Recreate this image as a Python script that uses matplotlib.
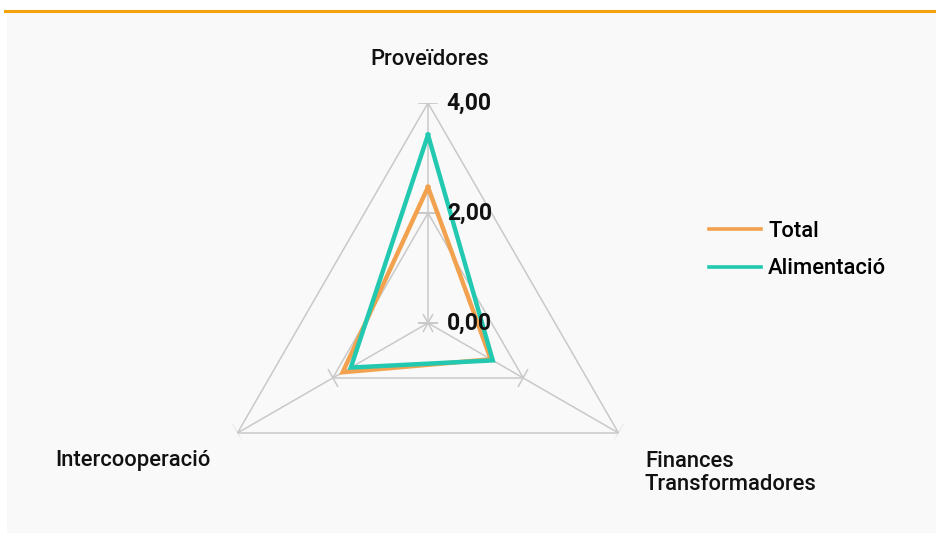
import numpy as np
import matplotlib
matplotlib.use("Agg")
import matplotlib.pyplot as plt
from matplotlib.markers import MarkerStyle
from matplotlib.transforms import Affine2D
from matplotlib.patches import Rectangle
from matplotlib.lines import Line2D

categories = ['Proveïdores', 'Finances\nTransformadores', 'Intercooperació']
series_names = ['Total', 'Alimentació']
total = [2.47, 1.32, 1.79]
alimentacio = [3.42, 1.36, 1.62]
tick_values = [0, 2, 4]
tick_labels = ['0,00', '2,00', '4,00']

FONT = ['Roboto', 'DejaVu Sans']
plt.rcParams['font.family'] = FONT
LABEL_W = 'medium'
LABEL_FS = 15.8

W, H = 936, 533
fig = plt.figure(figsize=(W / 100, H / 100), dpi=100)
fig.patch.set_facecolor('white')

# background panel and orange top rule
fig.patches.append(Rectangle((7 / W, 0), 1, (H - 12) / H, transform=fig.transFigure,
                             facecolor='#f9f9f9', edgecolor='none', zorder=-10))
fig.lines.append(Line2D([5 / W, 1], [1 - 10.5 / H, 1 - 10.5 / H], transform=fig.transFigure,
                        color='#f7a10d', linewidth=2.2))

cx, cy, R = 428, 323, 220
ax = fig.add_axes([(cx - R) / W, (H - cy - R) / H, 2 * R / W, 2 * R / H], projection='polar')
ax.set_facecolor('none')
ax.set_theta_offset(np.pi / 2)
ax.set_theta_direction(-1)
ax.set_ylim(0, 4)
ax.axis('off')

n = len(categories)
theta = np.arange(n) * 2 * np.pi / n
theta_c = np.append(theta, theta[0])

grid_col = '#c9c9c9'
for tv in tick_values[1:]:
    ax.plot(theta_c, [tv] * (n + 1), color=grid_col, lw=1.1, zorder=1)
for t in theta:
    ax.plot([t, t], [0, tick_values[-1]], color=grid_col, lw=1.1, zorder=1)
    screen_deg = 90 - np.degrees(t)
    m = MarkerStyle('_', transform=Affine2D().rotate_deg(screen_deg + 90))
    ax.plot([t] * len(tick_values), tick_values, linestyle='none', marker=m,
            markersize=15, markeredgewidth=1.1, color=grid_col, zorder=1)

for tv, tl in zip(tick_values, tick_labels):
    ax.annotate(tl, xy=(0, tv), xytext=(13.5, 0), textcoords='offset points',
                ha='left', va='center', fontsize=16.5, fontweight='bold', color='#111111',
                zorder=5)

l1, = ax.plot(theta_c, total + total[:1], color='#f2a24e', lw=3.2, zorder=3,
              solid_joinstyle='miter')
l2, = ax.plot(theta_c, alimentacio + alimentacio[:1], color='#22c9b0', lw=3.2, zorder=4,
              solid_joinstyle='miter')

ax.annotate(categories[0], xy=(theta[0], 4), xytext=(1.5, 31), textcoords='offset points',
            ha='center', va='center', fontsize=LABEL_FS, fontweight=LABEL_W, color='#111111')
ax.annotate(categories[1], xy=(theta[1], 4), xytext=(19, -28.5), textcoords='offset points',
            ha='left', va='center', fontsize=LABEL_FS, fontweight=LABEL_W, color='#111111',
            linespacing=1.12)
ax.annotate(categories[2], xy=(theta[2], 4), xytext=(-19, -20), textcoords='offset points',
            ha='right', va='center', fontsize=LABEL_FS, fontweight=LABEL_W, color='#111111')

leg = fig.legend([l1, l2], series_names, loc='center left',
                 bbox_to_anchor=(709 / W, 1 - 250 / H), frameon=False,
                 prop={'size': LABEL_FS, 'weight': LABEL_W, 'family': FONT},
                 handlelength=2.35, handletextpad=0.35, labelspacing=0.75,
                 borderpad=0, borderaxespad=0)
for h in leg.legend_handles:
    h.set_linewidth(2.6)

fig.savefig('out.png', dpi=100, facecolor=fig.get_facecolor())
